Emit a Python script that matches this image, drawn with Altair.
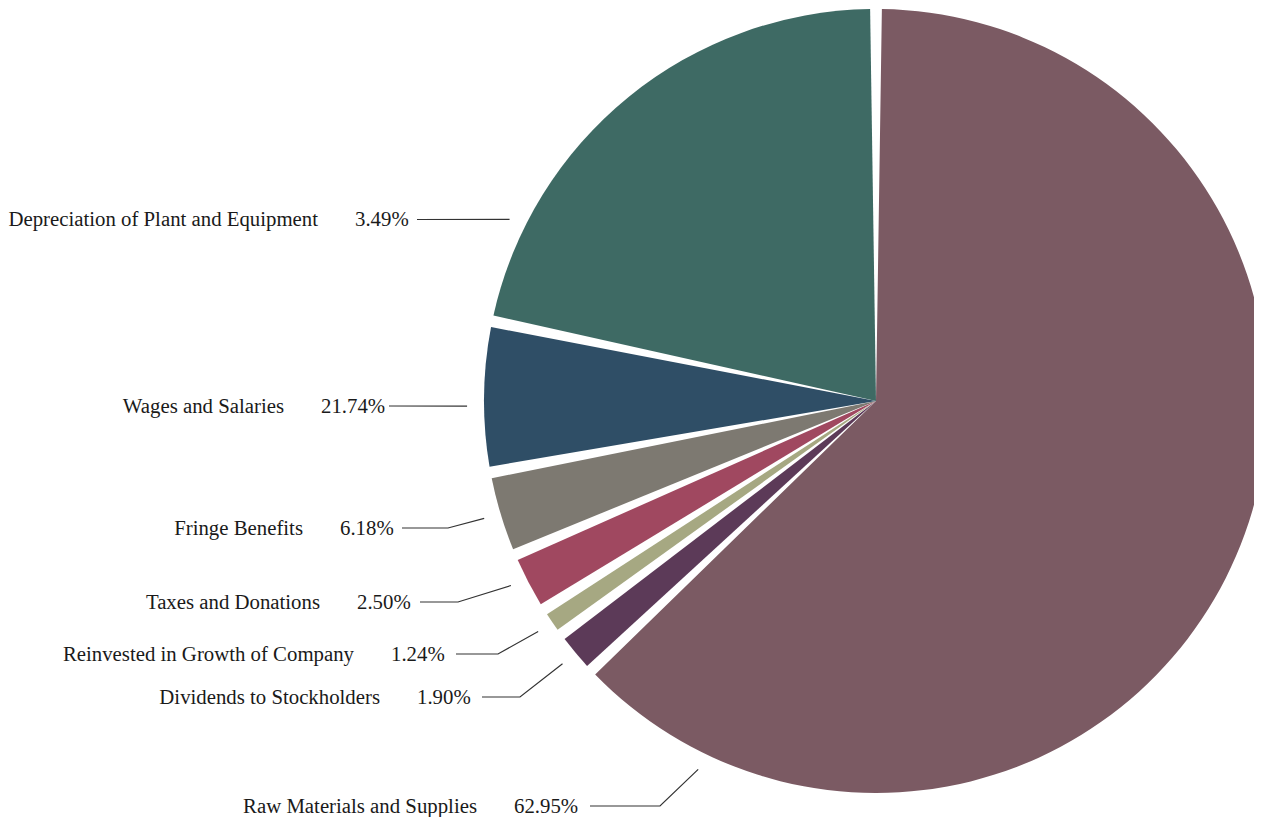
import math
import altair as alt
import pandas as pd

# ---- data: slices clockwise from 12 o'clock ----
slice_names = ["Raw Materials and Supplies", "Dividends to Stockholders",
               "Reinvested in Growth of Company", "Taxes and Donations",
               "Depreciation of Plant and Equipment", "Fringe Benefits",
               "Wages and Salaries"]
slice_values = [62.95, 1.90, 1.24, 2.50, 3.49, 6.18, 21.74]
slice_colors = ["#7b5a63", "#5c3a58", "#a6a882", "#a04860", "#7d7971", "#2f4e66", "#3e6a64"]

# printed labels, listed by the slice each leader line points to
label_names = ["Raw Materials and Supplies", "Dividends to Stockholders",
               "Reinvested in Growth of Company", "Taxes and Donations",
               "Fringe Benefits", "Wages and Salaries",
               "Depreciation of Plant and Equipment"]
label_pcts = ["62.95%", "1.90%", "1.24%", "2.50%", "6.18%", "21.74%", "3.49%"]

# ---- layout (chart pixel coordinates) ----
W, H = 1246, 809
CX, CY, R = 868, 393, 392
ANCHOR_R = R + 17
row_y = [798, 689, 646, 594, 520, 398, 211.5]
pct_x = [506, 409, 383, 349, 332, 313, 347]
line_x0 = [582, 474, 448, 412, 394, 381, 409]
elbow_x = [652, 512, 490, 450, 440, None, None]
anchor_frac = [0.908, 0.5, 0.5, 0.585, 0.51, 0.44, 0.187]
FONT = "Liberation Serif"
FS = 20.8

slice_df = pd.DataFrame({"name": slice_names, "value": slice_values,
                         "idx": list(range(len(slice_names)))})

# leader-line anchors derived from the slice angles
total = sum(slice_values)
starts = []
acc = 0.0
for v in slice_values:
    starts.append(acc)
    acc += v
line_rows = []
text_rows = []
for i, lab in enumerate(label_names):
    ang = (starts[i] + anchor_frac[i] * slice_values[i]) / total * 2 * math.pi
    ax = CX + ANCHOR_R * math.sin(ang)
    ay = CY - ANCHOR_R * math.cos(ang)
    pts = [(line_x0[i], row_y[i])]
    if elbow_x[i] is not None:
        pts.append((elbow_x[i], row_y[i]))
    pts.append((ax, ay))
    for k, (px, py) in enumerate(pts):
        line_rows.append({"label": lab, "k": k, "px": px, "py": py})
    text_rows.append({"label": lab, "pct": label_pcts[i],
                      "nx": pct_x[i] - 37, "pxx": pct_x[i], "ty": row_y[i] + 6.5})

line_df = pd.DataFrame(line_rows)
text_df = pd.DataFrame(text_rows)

pie = alt.Chart(slice_df).mark_arc(padAngle=0.03, radius=R).encode(
    theta=alt.Theta("value:Q", stack=True),
    color=alt.Color("name:N", scale=alt.Scale(domain=slice_names, range=slice_colors), legend=None),
    order=alt.Order("idx:Q"),
    x=alt.value(CX),
    y=alt.value(CY),
)

lines = alt.Chart(line_df).mark_line(color="#333333", strokeWidth=1.2).encode(
    x=alt.X("px:Q", scale=None, axis=None),
    y=alt.Y("py:Q", scale=None, axis=None),
    detail="label:N",
    order="k:Q",
)

names = alt.Chart(text_df).mark_text(align="right", baseline="alphabetic", font=FONT,
                                     fontSize=FS, color="#1a1a1a").encode(
    x=alt.X("nx:Q", scale=None, axis=None),
    y=alt.Y("ty:Q", scale=None, axis=None),
    text="label:N",
)

pcts = alt.Chart(text_df).mark_text(align="left", baseline="alphabetic", font=FONT,
                                    fontSize=FS, color="#1a1a1a").encode(
    x=alt.X("pxx:Q", scale=None, axis=None),
    y=alt.Y("ty:Q", scale=None, axis=None),
    text="pct:N",
)

chart = alt.layer(pie, lines, names, pcts).properties(
    width=W, height=H, autosize=alt.AutoSizeParams(type="none"), padding=0,
    background="white",
).configure_view(stroke=None)

chart.save("out.html", embed_options={"renderer": "svg", "actions": False})
